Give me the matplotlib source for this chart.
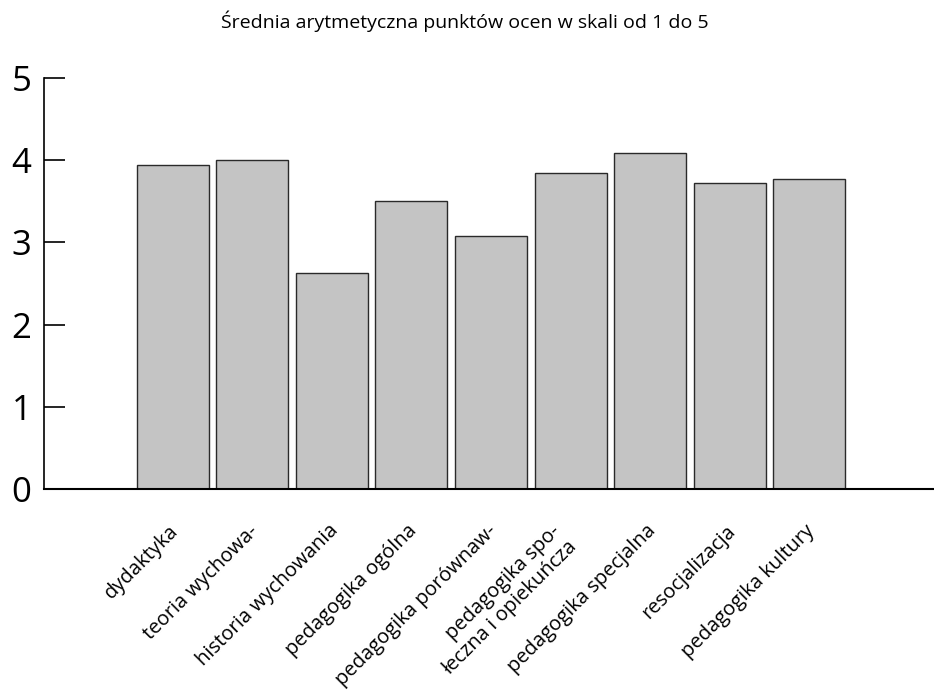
import matplotlib
matplotlib.use("Agg")
import matplotlib.pyplot as plt
import matplotlib.transforms as mtransforms

plt.rcParams["font.family"] = ["Open Sans", "DejaVu Sans"]

categories = ["dydaktyka", "teoria wychowa-", "historia wychowania", "pedagogika ogólna",
              "pedagogika porównaw-", "pedagogika spo-\nłeczna i opiekuńcza",
              "pedagogika specjalna", "resocjalizacja", "pedagogika kultury"]
values = [3.94, 4.00, 2.63, 3.50, 3.08, 3.84, 4.09, 3.72, 3.77]
yticks = [0, 1, 2, 3, 4, 5]
title = "Średnia arytmetyczna punktów ocen w skali od 1 do 5"

fig = plt.figure(figsize=(9.34, 6.97), dpi=100)
ax = fig.add_axes([44 / 934, 1 - 489 / 697, 1 - 44 / 934, (489 - 78) / 697])

x = list(range(len(categories)))
ax.bar(x, values, width=0.905, color="#c4c4c4", edgecolor="#2a2a2a", linewidth=1.0)

ax.set_xlim(-1.62, 9.57)
ax.set_ylim(0, 5)
ax.set_yticks(yticks)
ax.set_yticklabels([str(t) for t in yticks], fontsize=25)
ax.tick_params(axis="y", direction="in", length=15, width=1.2, pad=9)

ax.set_xticks(x)
ax.set_xticklabels(categories, rotation=45, ha="right", fontsize=14.5,
                   linespacing=1.15)
ax.tick_params(axis="x", length=0, pad=23)
offset = mtransforms.ScaledTranslation(10 / 100, 0, fig.dpi_scale_trans)
for lbl in ax.get_xticklabels():
    lbl.set_transform(lbl.get_transform() + offset)

for side in ["top", "right"]:
    ax.spines[side].set_visible(False)
ax.spines["left"].set_linewidth(1.2)
ax.spines["bottom"].set_linewidth(1.5)

fig.text(0.498, 1 - 21 / 697, title, ha="center", va="center", fontsize=14)

plt.savefig("out.png", dpi=100)
